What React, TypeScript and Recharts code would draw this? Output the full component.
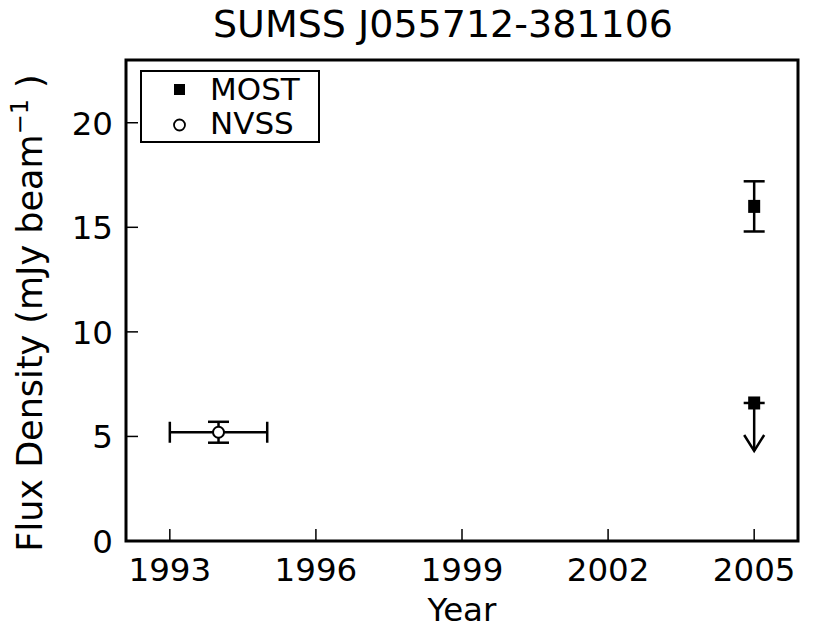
import React from 'react';
import { ScatterChart, Scatter, XAxis, YAxis, ErrorBar, ReferenceArea, Label } from 'recharts';

const FONT = '"DejaVu Sans", sans-serif';
const TICK_FONT = 32.5;

const X_TICKS = [1993, 1996, 1999, 2002, 2005];
const Y_TICKS = [0, 5, 10, 15, 20];
const X_DOMAIN: [number, number] = [1992.1, 2005.9];
const Y_DOMAIN: [number, number] = [0, 23];

// MOST detections
const mostYears = [2005];
const mostFlux = [16.0];
const mostFluxErr = [1.2];

// MOST upper limit
const limitYears = [2005];
const limitFlux = [6.6];

// NVSS
const nvssYears = [1994];
const nvssYearErr = [1.0];
const nvssFlux = [5.2];
const nvssFluxErr = [0.5];

const mostData = mostYears.map((year, i) => ({ year, flux: mostFlux[i], fluxErr: mostFluxErr[i] }));
const limitData = limitYears.map((year, i) => ({ year, flux: limitFlux[i] }));
const nvssData = nvssYears.map((year, i) => ({
  year,
  yearErr: nvssYearErr[i],
  flux: nvssFlux[i],
  fluxErr: nvssFluxErr[i],
}));

const ERR_STYLE = { stroke: '#000', strokeWidth: 2.5 };

const BottomTick = ({ x, y, payload }: any) => (
  <g>
    <line x1={x} y1={y} x2={x} y2={y - 12} stroke="#000" strokeWidth={1.5} />
    <text x={x} y={y + 40} textAnchor="middle" fontSize={TICK_FONT} fontFamily={FONT} fill="#000">
      {payload.value}
    </text>
  </g>
);

const TopTick = ({ x, y }: any) => (
  <line x1={x} y1={y} x2={x} y2={y + 12} stroke="#000" strokeWidth={1.5} />
);

const LeftTick = ({ x, y, payload }: any) => (
  <g>
    <line x1={x} y1={y} x2={x + 12} y2={y} stroke="#000" strokeWidth={1.5} />
    <text x={x - 13} y={y + 12} textAnchor="end" fontSize={TICK_FONT} fontFamily={FONT} fill="#000">
      {payload.value}
    </text>
  </g>
);

const RightTick = ({ x, y }: any) => (
  <line x1={x} y1={y} x2={x - 12} y2={y} stroke="#000" strokeWidth={1.5} />
);

const SquareMarker = ({ cx, cy }: any) => (
  <rect x={cx - 6} y={cy - 6.5} width={12} height={13} fill="#000" />
);

const CircleMarker = ({ cx, cy }: any) => (
  <circle cx={cx} cy={cy} r={5.5} fill="#fff" stroke="#000" strokeWidth={2} />
);

// upper limit: square, cap and a downward arrow
const LimitMarker = ({ cx, cy }: any) => (
  <g>
    <line x1={cx - 10.5} y1={cy} x2={cx + 10.5} y2={cy} stroke="#000" strokeWidth={2.5} />
    <line x1={cx} y1={cy} x2={cx} y2={cy + 48} stroke="#000" strokeWidth={2.5} />
    <polyline
      points={`${cx - 10},${cy + 32} ${cx},${cy + 48} ${cx + 10},${cy + 32}`}
      fill="none"
      stroke="#000"
      strokeWidth={2.5}
    />
    <rect x={cx - 6} y={cy - 6.5} width={12} height={13} fill="#000" />
  </g>
);

const YLabel = () => (
  <text
    transform="translate(42,313) rotate(-90)"
    textAnchor="middle"
    fontSize={35}
    fontFamily={FONT}
    fill="#000"
  >
    Flux Density (mJy beam
    <tspan dy={-14} fontSize={24}>−1</tspan>
    <tspan dy={14}> )</tspan>
  </text>
);

const XLabel = () => (
  <text x={462} y={621} textAnchor="middle" fontSize={TICK_FONT} fontFamily={FONT} fill="#000">
    Year
  </text>
);

const legendRow = { position: 'absolute' as const, left: 0, height: 36, display: 'flex', alignItems: 'center' };
const legendText = { marginLeft: 8, display: 'inline-block', height: 36, lineHeight: '36px' };

export default function App() {
  return (
    <div style={{ position: 'absolute', left: 0, top: 0, width: 830, height: 631, background: '#fff' }}>
      <div
        style={{
          position: 'absolute',
          left: 0,
          width: 886,
          top: 2,
          textAlign: 'center',
          fontFamily: FONT,
          fontSize: 38,
          lineHeight: '44px',
          color: '#000',
        }}
      >
        SUMSS J055712-381106
      </div>
      <ScatterChart width={830} height={631} margin={{ top: 60, right: 32, bottom: 0, left: 0 }}>
        <XAxis
          type="number"
          dataKey="year"
          domain={X_DOMAIN}
          ticks={X_TICKS}
          allowDataOverflow
          height={90}
          tickSize={0}
          tickMargin={0}
          tickLine={false}
          axisLine={false}
          tick={<BottomTick />}
        >
          <Label content={<XLabel />} />
        </XAxis>
        <XAxis
          xAxisId="top"
          orientation="top"
          type="number"
          dataKey="year"
          domain={X_DOMAIN}
          ticks={X_TICKS}
          allowDataOverflow
          height={0}
          tickSize={0}
          tickMargin={0}
          tickLine={false}
          axisLine={false}
          tick={<TopTick />}
        />
        <YAxis
          type="number"
          dataKey="flux"
          domain={Y_DOMAIN}
          ticks={Y_TICKS}
          allowDataOverflow
          width={126}
          tickSize={0}
          tickMargin={0}
          tickLine={false}
          axisLine={false}
          tick={<LeftTick />}
        >
          <Label content={<YLabel />} />
        </YAxis>
        <YAxis
          yAxisId="right"
          orientation="right"
          type="number"
          dataKey="flux"
          domain={Y_DOMAIN}
          ticks={Y_TICKS}
          allowDataOverflow
          width={0}
          tickSize={0}
          tickMargin={0}
          tickLine={false}
          axisLine={false}
          tick={<RightTick />}
        />
        <ReferenceArea
          x1={X_DOMAIN[0]}
          x2={X_DOMAIN[1]}
          y1={Y_DOMAIN[0]}
          y2={Y_DOMAIN[1]}
          fill="none"
          stroke="#000"
          strokeWidth={3}
        />
        <Scatter data={nvssData} shape={<CircleMarker />} isAnimationActive={false}>
          <ErrorBar dataKey="yearErr" direction="x" width={10.5} stroke="#000" strokeWidth={2.5} style={ERR_STYLE} />
          <ErrorBar dataKey="fluxErr" direction="y" width={10.5} stroke="#000" strokeWidth={2.5} style={ERR_STYLE} />
        </Scatter>
        <Scatter data={mostData} shape={<SquareMarker />} isAnimationActive={false}>
          <ErrorBar dataKey="fluxErr" direction="y" width={10.5} stroke="#000" strokeWidth={2.5} style={ERR_STYLE} />
        </Scatter>
        <Scatter data={limitData} shape={<LimitMarker />} isAnimationActive={false} />
      </ScatterChart>
      <div
        style={{
          position: 'absolute',
          left: 140,
          top: 70,
          width: 176,
          height: 69,
          border: '2.5px solid #000',
          background: '#fff',
          fontFamily: FONT,
          fontSize: 31,
          color: '#000',
        }}
      >
        <div style={{ ...legendRow, top: -1 }}>
          <svg width={60} height={36}>
            <rect x={32} y={13} width={11} height={11} fill="#000" />
          </svg>
          <span style={legendText}>MOST</span>
        </div>
        <div style={{ ...legendRow, top: 33 }}>
          <svg width={60} height={36}>
            <circle cx={37.5} cy={20} r={5.5} fill="#fff" stroke="#000" strokeWidth={1.8} />
          </svg>
          <span style={legendText}>NVSS</span>
        </div>
      </div>
    </div>
  );
}
